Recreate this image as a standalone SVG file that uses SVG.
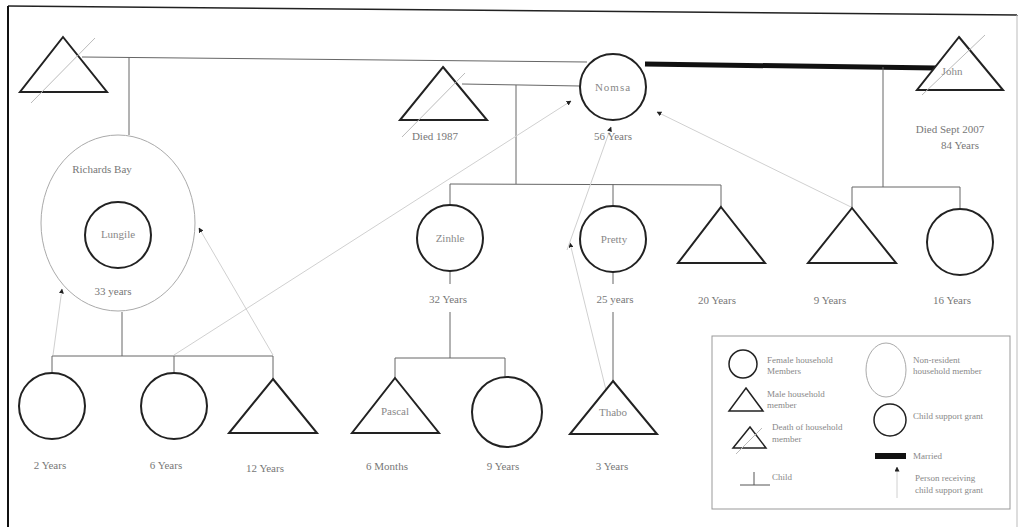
<svg xmlns="http://www.w3.org/2000/svg" width="1020" height="527" viewBox="0 0 1020 527">
<defs>
<style>
.node{fill:#fff;stroke:#222;stroke-width:2}
.nonres{fill:none;stroke:#aaa;stroke-width:1}
.strike{stroke:#bbb;stroke-width:1}
.line{stroke:#666;stroke-width:1;fill:none}
.married{stroke:#111;stroke-width:5;fill:none}
.grant{stroke:#d0d0d0;stroke-width:1;fill:none;marker-end:url(#ah)}
.lbl{font-family:"Liberation Serif",serif;font-size:11px;fill:#777;text-anchor:middle}
.name{font-family:"Liberation Serif",serif;font-size:11px;fill:#888;text-anchor:middle}
.leg{font-family:"Liberation Serif",serif;font-size:9px;fill:#888}
</style>
<marker id="ah" viewBox="0 0 10 10" refX="9" refY="5" markerWidth="5" markerHeight="5" orient="auto" markerUnits="userSpaceOnUse"><path d="M0,0 L10,5 L0,10 z" fill="#222"/></marker>
</defs>
<rect width="1020" height="527" fill="#fff"/>
<g id="frame" fill="none">
<path d="M8,6 L1018,15" stroke="#222" stroke-width="1.5"/>
<path d="M8,6 L8,527" stroke="#111" stroke-width="2"/>
<path d="M1017,15 L1017,527" stroke="#bbb" stroke-width="1"/>
</g>
<g id="connectors">
<path class="line" d="M82,57 L587,62" stroke="#444"/>
<path class="line" d="M129,57 L129,135"/>
<path class="line" d="M122,312 L122,356 M52,356 L273,356 M52,356 L52,373 M174,356 L174,373 M273,356 L273,379"/>
<path class="line" d="M462,84 L580,86 M516,85 L516,184 M450,184 L721,185 M450,184 L450,205 M613,184 L613,206 M721,185 L721,207"/>
<path class="married" d="M645,64 L936,68"/>
<path class="line" d="M883,67 L883,187 M852,187 L960,187 M852,187 L852,208 M960,187 L960,209" stroke="#999"/>
<path class="line" d="M450,271 L450,284 M450,312 L450,358 M395,358 L505,358 M395,358 L395,378 M505,358 L505,377"/>
<path class="line" d="M613,272 L613,284 M613,312 L613,381"/>
<path class="grant" d="M53,355 L62,289"/>
<path class="grant" d="M273,355 L199,228"/>
<path class="grant" d="M174,355 L571,101"/>
<path class="grant" d="M606,390 L570,243"/>
<path class="grant" d="M567,250 L611,127"/>
<path class="grant" d="M851,207 L657,112"/>
</g>
<g id="father1">
<path class="node" d="M63,37 L107,92 L20,92 Z"/>
<path class="strike" d="M31,103 L95,38"/>
</g>
<g id="died1987">
<path class="node" d="M443,67 L487,120 L400,120 Z"/>
<path class="strike" d="M402,137 L465,73"/>
<text class="lbl" x="435" y="140">Died 1987</text>
</g>
<g id="nomsa">
<circle class="node" cx="613" cy="87" r="33"/>
<text class="name" x="613" y="91" letter-spacing="1">Nomsa</text>
<text class="lbl" x="613" y="140">56 Years</text>
</g>
<g id="john">
<path class="node" d="M959,37 L1003,90 L917,90 Z"/>
<path class="strike" d="M922,95 L985,35" stroke="#ddd"/>
<text class="name" x="952" y="75">John</text>
<text class="lbl" x="950" y="133">Died Sept 2007</text>
<text class="lbl" x="960" y="149">84 Years</text>
</g>
<g id="richardsbay">
<ellipse class="nonres" cx="118" cy="223" rx="77" ry="88"/>
<text class="lbl" x="102" y="173">Richards Bay</text>
<text class="lbl" x="113" y="295">33 years</text>
</g>
<g id="lungile">
<circle class="node" cx="118" cy="235" r="33"/>
<text class="name" x="118" y="238" font-size="9">Lungile</text>
</g>
<g id="zinhle">
<circle class="node" cx="450" cy="238" r="33"/>
<text class="name" x="450" y="242">Zinhle</text>
<text class="lbl" x="448" y="303">32 Years</text>
</g>
<g id="pretty">
<circle class="node" cx="613" cy="239" r="33"/>
<text class="name" x="614" y="243">Pretty</text>
<text class="lbl" x="615" y="303">25 years</text>
</g>
<g id="son20">
<path class="node" d="M721,207 L765,263 L678,263 Z"/>
<text class="lbl" x="717" y="304">20 Years</text>
</g>
<g id="son9">
<path class="node" d="M852,208 L896,263 L808,263 Z"/>
<text class="lbl" x="830" y="304">9 Years</text>
</g>
<g id="daughter16">
<circle class="node" cx="960" cy="242" r="33"/>
<text class="lbl" x="952" y="304">16 Years</text>
</g>
<g id="child2">
<circle class="node" cx="52" cy="406" r="33"/>
<text class="lbl" x="50" y="469">2 Years</text>
</g>
<g id="child6">
<circle class="node" cx="174" cy="406" r="33"/>
<text class="lbl" x="166" y="469">6 Years</text>
</g>
<g id="child12">
<path class="node" d="M273,379 L317,433 L229,433 Z"/>
<text class="lbl" x="265" y="472">12 Years</text>
</g>
<g id="pascal">
<path class="node" d="M395,378 L439,433 L352,433 Z"/>
<text class="name" x="395" y="415">Pascal</text>
<text class="lbl" x="387" y="470">6 Months</text>
</g>
<g id="child9b">
<circle class="node" cx="507" cy="412" r="35"/>
<text class="lbl" x="503" y="470">9 Years</text>
</g>
<g id="thabo">
<path class="node" d="M613,381 L657,434 L570,434 Z"/>
<text class="name" x="613" y="416">Thabo</text>
<text class="lbl" x="612" y="470">3 Years</text>
</g>
<g id="legend">
<rect x="712" y="336" width="298" height="173" fill="none" stroke="#999" stroke-width="1"/>
<circle cx="743" cy="364" r="14" fill="none" stroke="#222" stroke-width="1.5"/>
<text class="leg" x="767" y="363">Female household</text>
<text class="leg" x="767" y="374">Members</text>
<path d="M746,388 L763,411 L729,411 Z" fill="none" stroke="#222" stroke-width="1.5"/>
<text class="leg" x="767" y="397">Male household</text>
<text class="leg" x="767" y="408">member</text>
<path d="M750,427 L766,448 L733,448 Z" fill="none" stroke="#222" stroke-width="1.5"/>
<path d="M736,454 L762,428" stroke="#bbb" stroke-width="1"/>
<text class="leg" x="772" y="430">Death of household</text>
<text class="leg" x="772" y="442">member</text>
<path d="M740,485 L770,485 M754,472 L754,485" stroke="#555" stroke-width="1" fill="none"/>
<text class="leg" x="772" y="480">Child</text>
<ellipse cx="886" cy="370" rx="20" ry="27" fill="none" stroke="#aaa" stroke-width="1"/>
<text class="leg" x="913" y="363">Non-resident</text>
<text class="leg" x="913" y="374">household member</text>
<circle cx="890" cy="420" r="16" fill="none" stroke="#222" stroke-width="1.5"/>
<text class="leg" x="913" y="419">Child support grant</text>
<path d="M875,456 L906,456" stroke="#111" stroke-width="6"/>
<text class="leg" x="913" y="459">Married</text>
<path class="grant" d="M897,498 L897,467"/>
<text class="leg" x="915" y="481">Person receiving</text>
<text class="leg" x="915" y="493">child support grant</text>
</g>
</svg>
